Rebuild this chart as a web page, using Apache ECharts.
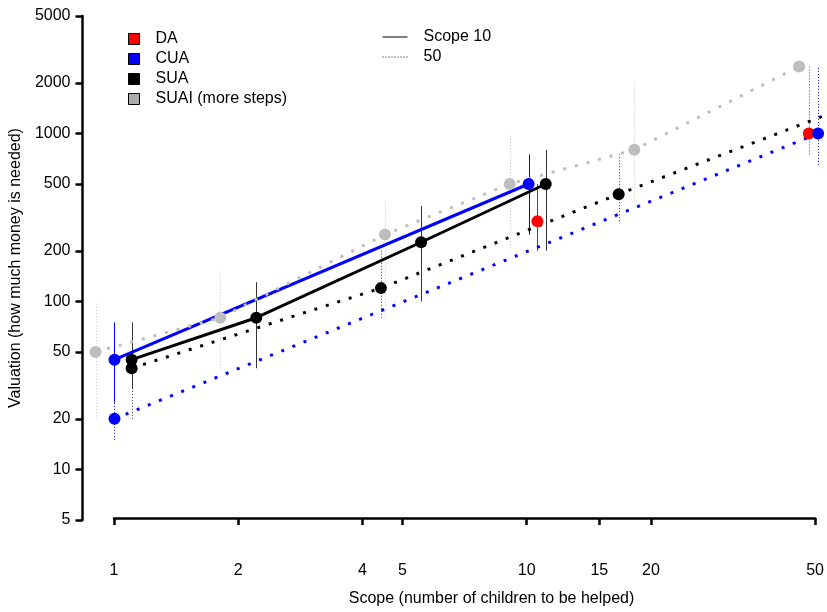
<!DOCTYPE html>
<html><head><meta charset="utf-8">
<script src="https://cdn.jsdelivr.net/npm/echarts@6/dist/echarts.min.js"></script>
<style>html,body{margin:0;padding:0;background:#fff}#c{width:827px;height:612px}</style>
</head><body><div id="c"></div>
<script>
// Tick labels
const xTicks = [1, 2, 4, 5, 10, 15, 20, 50];
const yTicks = [5, 10, 20, 50, 100, 200, 500, 1000, 2000, 5000];

// Legend labels
const conditionNames = ['DA', 'CUA', 'SUA', 'SUAI (more steps)'];
const scopeNames = ['Scope 10', '50'];

// DA
const daScope10X = [10.5], daScope10Y = [300], daScope10Lo = [200], daScope10Hi = [500];
const daScope50X = [47.5], daScope50Y = [1000], daScope50Lo = [750], daScope50Hi = [2500];
// CUA
const cuaScope10X = [1, 10], cuaScope10Y = [45, 500], cuaScope10Lo = [25, 250], cuaScope10Hi = [75, 750];
const cuaScope50X = [1, 50], cuaScope50Y = [20, 1000], cuaScope50Lo = [15, 650], cuaScope50Hi = [30, 2500];
// SUA
const suaScope10X = [1.1, 2.2, 5.5, 11], suaScope10Y = [45, 80, 225, 500], suaScope10Lo = [30, 40, 100, 200], suaScope10Hi = [75, 130, 370, 800];
const suaScope50X = [1.1, 4.4, 16.5, 55], suaScope50Y = [40, 120, 435, 1350], suaScope50Lo = [20, 80, 300, 900], suaScope50Hi = [60, 200, 750, 2200];
// SUAI (more steps), scope 50
const suaiX = [0.9, 1.8, 4.5, 9, 18, 45], suaiY = [50, 80, 250, 500, 800, 2500], suaiLo = [20, 40, 80, 200, 400, null], suaiHi = [100, 150, 400, 1000, 2000, null];

const FONT = '"Liberation Sans", Arial, Helvetica, sans-serif';
const RED = '#ff0000', BLUE = '#0000ff', BLACK = '#000000', GREY = '#bebebe';
const XMIN = 0.837, XMAX = 51.1;

const groups = [
  {name: 'DA', color: RED, barColor: RED, dotted: false, x: daScope10X, y: daScope10Y, lo: daScope10Lo, hi: daScope10Hi},
  {name: 'DA', color: RED, barColor: RED, dotted: true, x: daScope50X, y: daScope50Y, lo: daScope50Lo, hi: daScope50Hi},
  {name: 'CUA', color: BLUE, barColor: BLUE, dotted: false, x: cuaScope10X, y: cuaScope10Y, lo: cuaScope10Lo, hi: cuaScope10Hi},
  {name: 'CUA', color: BLUE, barColor: BLUE, dotted: true, x: cuaScope50X, y: cuaScope50Y, lo: cuaScope50Lo, hi: cuaScope50Hi},
  {name: 'SUA', color: BLACK, barColor: '#333333', dotted: false, x: suaScope10X, y: suaScope10Y, lo: suaScope10Lo, hi: suaScope10Hi},
  {name: 'SUA', color: BLACK, barColor: '#333333', dotted: true, x: suaScope50X, y: suaScope50Y, lo: suaScope50Lo, hi: suaScope50Hi},
  {name: 'SUAI (more steps)', color: GREY, barColor: '#c8c8c8', dotted: true, x: suaiX, y: suaiY, lo: suaiLo, hi: suaiHi}
];

const series = [];
groups.forEach(g => {
  const bars = [];
  g.x.forEach((xv, i) => { if (g.lo[i] != null && g.hi[i] != null) bars.push([xv, g.lo[i], g.hi[i]]); });
  series.push({
    type: 'custom', name: g.name, xAxisIndex: 0, yAxisIndex: 0, clip: true, silent: true, z: 1,
    data: bars, encode: {x: 0, y: [1, 2]},
    renderItem: (params, api) => {
      const p1 = api.coord([api.value(0), api.value(1)]);
      const p2 = api.coord([api.value(0), api.value(2)]);
      return {type: 'line', shape: {x1: Math.round(p1[0]) + 0.5, y1: p1[1], x2: Math.round(p2[0]) + 0.5, y2: p2[1]},
        style: {stroke: g.barColor, lineWidth: 1, lineDash: g.dotted ? [1, 2] : null}};
    }
  });
});
groups.forEach(g => {
  series.push({
    type: 'line', name: g.name, xAxisIndex: 0, yAxisIndex: 0, clip: true, z: 2,
    data: g.x.map((xv, i) => [xv, g.y[i]]),
    symbol: 'circle', symbolSize: 12, showAllSymbol: true,
    itemStyle: {color: g.color, borderWidth: 0},
    lineStyle: {color: g.color, width: 3, type: g.dotted ? [3, 9] : 'solid', cap: 'butt'},
    emphasis: {disabled: true}
  });
});
// dummy series for the scope legend (line style only)
series.push({type: 'line', name: scopeNames[0], data: [], symbol: 'none', symbolSize: 0,
  itemStyle: {color: 'rgba(0,0,0,0)'}, lineStyle: {color: BLACK, width: 1, type: 'solid'}});
series.push({type: 'line', name: scopeNames[1], data: [], symbol: 'none', symbolSize: 0,
  itemStyle: {color: 'rgba(0,0,0,0)'}, lineStyle: {color: BLACK, width: 1, type: [1, 2]}});

const legendColors = [RED, BLUE, BLACK, '#aaaaaa'];

const option = {
  animation: false,
  backgroundColor: '#ffffff',
  textStyle: {fontFamily: FONT},
  grid: [
    {left: 82, right: 5, top: 16, bottom: 92, containLabel: false},
    {left: 114, right: 9, top: 16, bottom: 92, containLabel: false}
  ],
  legend: [
    {
      orient: 'vertical', left: 128, top: 31, padding: 0, itemGap: 4,
      itemWidth: 11, itemHeight: 11, selectedMode: false,
      textStyle: {fontSize: 16, color: '#000', fontFamily: FONT, lineHeight: 16, padding: [0, 0, 0, 11]},
      data: conditionNames.map((n, i) => ({name: n, icon: 'rect', itemStyle: {color: legendColors[i], borderColor: '#000', borderWidth: 1}}))
    },
    {
      orient: 'vertical', left: 382, top: 29, padding: 0, itemGap: 4,
      itemWidth: 25, itemHeight: 14, selectedMode: false,
      itemStyle: {color: 'rgba(0,0,0,0)', borderWidth: 0, opacity: 0},
      lineStyle: {width: 1, color: '#000'},
      textStyle: {fontSize: 16, color: '#000', fontFamily: FONT, lineHeight: 16, padding: [0, 0, 0, 11]},
      data: scopeNames
    }
  ],
  xAxis: [
    {type: 'log', gridIndex: 0, min: XMIN, max: XMAX, show: false},
    {
      type: 'log', gridIndex: 1, min: 1, max: 50, position: 'bottom', offset: 33,
      name: 'Scope (number of children to be helped)', nameLocation: 'middle', nameGap: 40,
      nameTextStyle: {fontSize: 16, color: '#000', fontFamily: FONT, padding: [0, 0, 0, 54]},
      axisLine: {show: true, lineStyle: {color: '#000', width: 2.5}},
      axisTick: {show: true, inside: false, length: 7, customValues: xTicks, lineStyle: {color: '#000', width: 2.5}},
      axisLabel: {show: true, margin: 12, fontSize: 16, color: '#000', fontFamily: FONT, customValues: xTicks,
        formatter: v => String(Math.round(v * 100) / 100)},
      splitLine: {show: false}, minorTick: {show: false}
    }
  ],
  yAxis: [
    {
      type: 'log', gridIndex: 0, min: 5, max: 5000, position: 'left',
      name: 'Valuation (how much money is needed)', nameLocation: 'middle', nameGap: 53, nameRotate: 90,
      nameTextStyle: {fontSize: 16, color: '#000', fontFamily: FONT},
      axisLine: {show: true, lineStyle: {color: '#000', width: 2.5}},
      axisTick: {show: true, inside: false, length: 7, customValues: yTicks, lineStyle: {color: '#000', width: 2.5}},
      axisLabel: {show: true, margin: 12, fontSize: 16, color: '#000', fontFamily: FONT, customValues: yTicks,
        formatter: v => String(Math.round(v))},
      splitLine: {show: false}, minorTick: {show: false}
    },
    {type: 'value', gridIndex: 1, show: false}
  ],
  series: series
};

const chart = echarts.init(document.getElementById('c'), null, {renderer: 'canvas'});
chart.setOption(option);
</script>
</body></html>
